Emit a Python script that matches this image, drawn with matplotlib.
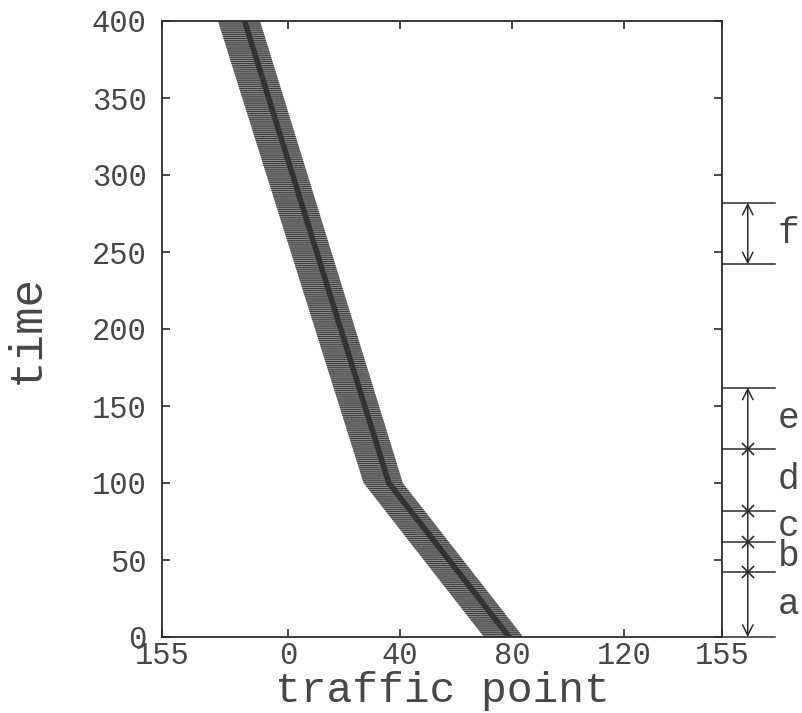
import numpy as np
import matplotlib.pyplot as plt
from matplotlib.transforms import blended_transform_factory

# time-space band of the platoon (piecewise linear, read at the key points)
times = [0, 100, 400]
left_edge = [70, 27, -25]
right_edge = [84, 41, -10]
core = [79, 36, -15.5]

x_ticks = [-45, 0, 40, 80, 120, 155]
x_tick_labels = ['155', '0', '40', '80', '120', '155']
y_ticks = [0, 50, 100, 150, 200, 250, 300, 350, 400]

# phases marked on the right side
phase_bounds = [0, 42, 62, 82, 122, 162]
phase_names = ['a', 'b', 'c', 'd', 'e']
f_bounds = [242, 282]

plt.rcParams['font.family'] = ['Liberation Mono', 'DejaVu Sans Mono']
plt.rcParams['hatch.linewidth'] = 0.7
ink = '#2b2b2b'
txt = '#474747'

fig = plt.figure(figsize=(8.02, 7.13), dpi=100)
ax = fig.add_axes([162/802, 1 - 637/713, 560/802, 616/713])

ax.fill_betweenx(times, left_edge, right_edge, facecolor='#8a8a8a',
                 edgecolor='#3a3a3a', hatch='-'*8, linewidth=0, zorder=2)
ax.plot(core, times, color='#333333', lw=4, zorder=3)

ax.set_xlim(-45, 155)
ax.set_ylim(0, 400)
ax.set_xticks(x_ticks)
ax.set_xticklabels(x_tick_labels)
ax.set_yticks(y_ticks)
ax.tick_params(direction='in', length=6, width=1.2, colors=ink, labelcolor=txt,
               top=True, right=True, labelsize=22)
ax.tick_params(axis='x', pad=3)
ax.tick_params(axis='y', pad=11)
for s in ax.spines.values():
    s.set_linewidth(1.3)
    s.set_color(ink)

ax.set_xlabel('traffic point', fontsize=31, color=txt, labelpad=0)
ax.set_ylabel('time', fontsize=33, color=txt, labelpad=31)

# annotations outside the right spine
trans = blended_transform_factory(ax.transAxes, ax.transData)
xa = 1.046
for y in phase_bounds + f_bounds:
    ax.plot([1.0, 1.095], [y, y], transform=trans, clip_on=False, color=ink, lw=1.1)

arrow = dict(arrowstyle='<->, head_length=0.5, head_width=0.25', color=ink,
             lw=1.1, shrinkA=0, shrinkB=0, mutation_scale=15)
ax.annotate('', xy=(xa, phase_bounds[0]), xytext=(xa, phase_bounds[-1]),
            xycoords=trans, textcoords=trans, arrowprops=arrow, annotation_clip=False)
ax.annotate('', xy=(xa, f_bounds[0]), xytext=(xa, f_bounds[1]),
            xycoords=trans, textcoords=trans, arrowprops=arrow, annotation_clip=False)
ax.plot([xa] * 4, phase_bounds[1:-1], 'x', ms=9, mew=1.2, color=ink,
        transform=trans, clip_on=False)

for i, name in enumerate(phase_names):
    mid = (phase_bounds[i] + phase_bounds[i + 1]) / 2
    ax.text(1.1, mid, name, transform=trans, fontsize=26, color=txt,
            ha='left', va='center')
ax.text(1.1, sum(f_bounds) / 2, 'f', transform=trans, fontsize=26, color=txt,
        ha='left', va='center')

fig.savefig('out.png', dpi=100)
